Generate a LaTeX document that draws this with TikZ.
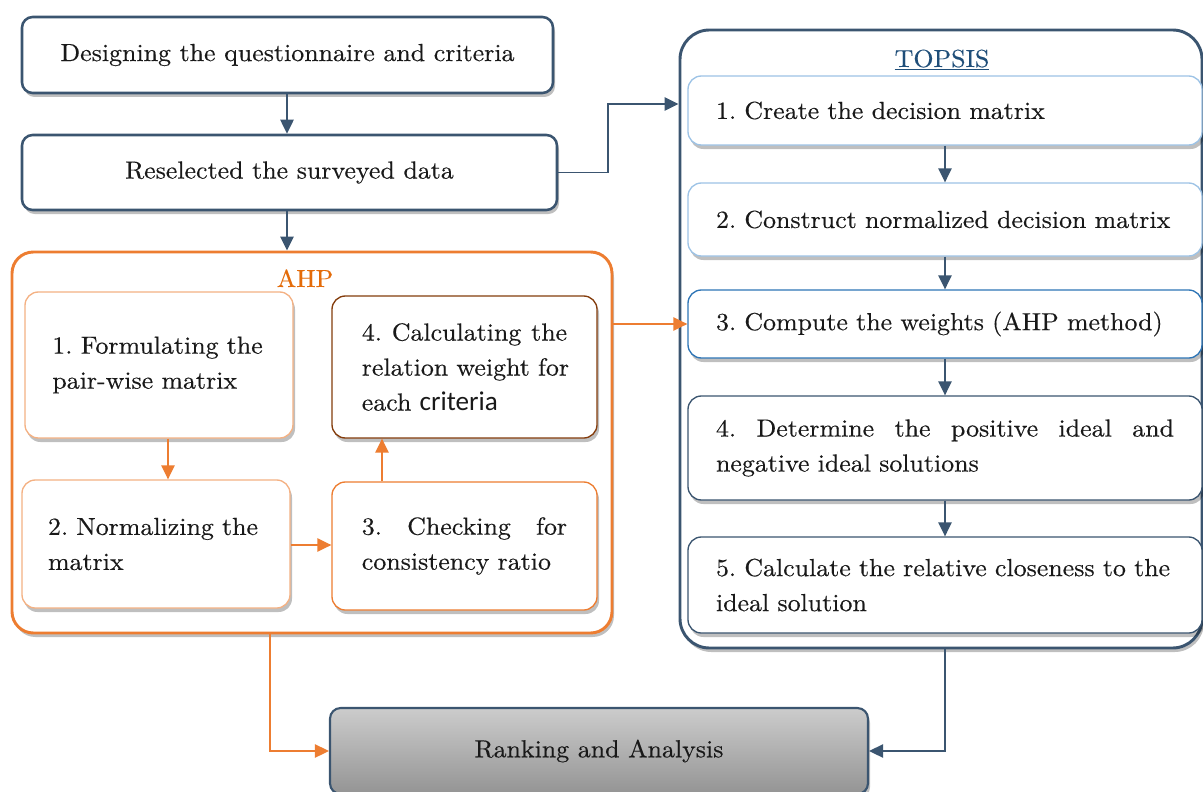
\documentclass[tikz,border=0pt]{standalone}
\usepackage{fontspec}
\setmainfont{lmroman10-regular.otf}[FakeStretch=1.05, FakeBold=0.35]
\newfontfamily\calib{Carlito}[Scale=1.1]
\usetikzlibrary{arrows.meta,shadows}

\definecolor{navy}{HTML}{3B5570}
\definecolor{topsisblue}{HTML}{1F4E79}
\definecolor{paleblue}{HTML}{9DC3E6}
\definecolor{midblue}{HTML}{2E75B6}
\definecolor{ahporange}{HTML}{ED7D31}
\definecolor{ahptext}{HTML}{E46C0A}
\definecolor{paleorange}{HTML}{F4B183}
\definecolor{brownedge}{HTML}{843C0C}

\tikzset{
  txt/.style={font=\fontsize{18.5}{26.25}\selectfont\frenchspacing, text=black!90},
  shade/.style={drop shadow={shadow xshift=1.5pt, shadow yshift=-3pt, opacity=0.25, fill=black}},
  stage/.style={draw=navy, line width=1.9pt, rounded corners=8pt, fill=white, inner sep=0pt, shade, txt},
  group/.style={draw=#1, line width=2.2pt, rounded corners=16pt, fill=white, inner sep=0pt, shade},
  stepbox/.style={draw=#1, line width=1pt, rounded corners=10pt, fill=white, inner sep=0pt, shade, txt, align=left},
  darr/.style={draw=navy, line width=1.1pt, -{Triangle[length=10.5pt,width=10pt]}},
  oarr/.style={draw=ahporange, line width=1.1pt, -{Triangle[length=10.5pt,width=10pt]}},
}

% a justified line: words pushed apart to fill the given width
\newcommand{\spreadto}[2]{\leavevmode\hbox to #1{#2}}

\begin{document}
\begin{tikzpicture}[x=0.75pt, y=-0.75pt]
\useasboundingbox (0,0) rectangle (1203,792);
\clip (0,0) rectangle (1203,792);

% top stages
\node[stage, minimum width=398.25pt, minimum height=57pt] (design) at (287.5,55)
  {Designing the questionnaire and criteria};
\node[stage, minimum width=401.25pt, minimum height=56.25pt] (resel) at (289.5,172.5)
  {Reselected the surveyed data};

% AHP group
\node[group=ahporange, minimum width=450pt, minimum height=285.75pt] (ahp) at (312,442.5) {};
\node[txt, text=ahptext, anchor=base] (ahplabel) at (305,287) {AHP};

\node[stepbox=paleorange, minimum width=201pt, minimum height=109.5pt, text width=160pt] (a1) at (159,365)
  {1. Formulating the\\pair-wise matrix};
\node[stepbox=brownedge, minimum width=198.75pt, minimum height=106.5pt, text width=154pt] (a4) at (464.5,367)
  {\spreadto{154pt}{4.\hfill\ Calculating\hfill\ the}\\
   \spreadto{154pt}{relation\hfill\ weight\hfill\ for}\\
   each {\calib criteria}};
\node[stepbox=paleorange, minimum width=201pt, minimum height=96pt, text width=162pt] (a2) at (156,544)
  {2. Normalizing the\\matrix};
\node[stepbox=ahporange, minimum width=198.75pt, minimum height=96pt, text width=154pt] (a3) at (464.5,546)
  {\spreadto{154pt}{3.\hfill\ Checking\hfill\ for}\\consistency ratio};

% TOPSIS group
\node[group=navy, rounded corners=22pt, minimum width=391.5pt, minimum height=463.5pt] (topsis) at (941,339) {};
\node[txt, text=topsisblue, anchor=base] (topsislabel) at (942,67) {\underline{TOPSIS}};

\node[stepbox=paleblue, minimum width=385.5pt, minimum height=51.75pt, text width=343.5pt] (t1) at (945,110.5)
  {1. Create the decision matrix};
\node[stepbox=paleblue, minimum width=385.5pt, minimum height=54.75pt, text width=343.5pt] (t2) at (945,219.5)
  {2. Construct normalized decision matrix};
\node[stepbox=midblue, minimum width=385.5pt, minimum height=51pt, text width=343.5pt] (t3) at (945,324)
  {3. Compute the weights (AHP method)};
\node[stepbox=navy, minimum width=385.5pt, minimum height=78pt, text width=343.5pt] (t4) at (945,448)
  {\spreadto{343.5pt}{4.\hfill\ Determine\hfill\ the\hfill\ positive\hfill\ ideal\hfill\ and}\\negative ideal solutions};
\node[stepbox=navy, minimum width=385.5pt, minimum height=72pt, text width=343.5pt] (t5) at (945,585)
  {5. Calculate the relative closeness to the\\ideal solution};

% final stage
\node[draw=navy, line width=1.6pt, rounded corners=8pt, inner sep=0pt,
      top color=black!20, bottom color=black!42, shade, txt,
      minimum width=403.5pt, minimum height=64.5pt] (rank) at (599,751) {Ranking and Analysis};

% connectors
\coordinate (bend) at (608,104);
\coordinate (mainx) at (287,0);
\coordinate (ahpdrop) at (270,0);
\coordinate (tdrop) at (945,0);
\coordinate (downx) at (168,0);
\coordinate (upx) at (382,0);
\coordinate (sidey) at (0,545);

\draw[darr] (design.south -| mainx) -- (resel.north -| mainx);
\draw[darr] (resel.south -| mainx) -- (ahp.north -| mainx);
\draw[darr] (resel.east) -| (bend) -- (bend -| topsis.west);

\draw[oarr] (a1.south -| downx) -- (a2.north -| downx);
\draw[oarr] (a2.east |- sidey) -- (a3.west |- sidey);
\draw[oarr] (a3.north -| upx) -- (a4.south -| upx);
\draw[oarr] (ahp.east |- t3.west) -- (t3.west);

\draw[darr] (t1.south -| tdrop) -- (t2.north -| tdrop);
\draw[darr] (t2.south -| tdrop) -- (t3.north -| tdrop);
\draw[darr] (t3.south -| tdrop) -- (t4.north -| tdrop);
\draw[darr] (t4.south -| tdrop) -- (t5.north -| tdrop);

\draw[oarr] (ahp.south -| ahpdrop) |- (rank.west);
\draw[darr] (topsis.south -| tdrop) |- (rank.east);
\end{tikzpicture}
\end{document}
